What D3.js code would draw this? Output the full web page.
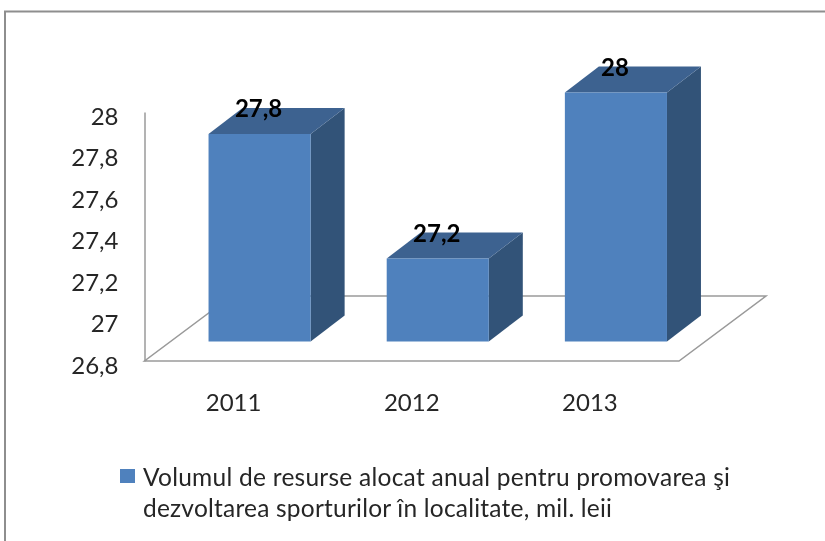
<!DOCTYPE html>
<html>
<head>
<meta charset="utf-8">
<script src="https://cdn.jsdelivr.net/npm/d3@7"></script>
<style>
  html, body { margin: 0; padding: 0; background: #fff; }
  svg { display: block; font-family: Lato, "Open Sans", sans-serif; filter: blur(0.4px); }
</style>
</head>
<body>
<svg id="chart" width="825" height="541"></svg>
<script>
const years = ['2011', '2012', '2013'];
const values = [27.8, 27.2, 28];
const yTicks = [26.8, 27, 27.2, 27.4, 27.6, 27.8, 28];
const legendLines = [
  'Volumul de resurse alocat anual pentru promovarea şi',
  'dezvoltarea sporturilor în localitate, mil. leii'
];

const colors = { front: '#4f81bd', top: '#3d6290', side: '#325378', line: '#9a9a9a', frame: '#8e8e8e', text: '#262626' };
const comma = d => String(d).replace('.', ',');

const svg = d3.select('#chart');

// plot box: front left corner of the floor is at (plotLeft, plotBottom)
const plotLeft = 144.5, plotRight = 679, plotTop = 112, plotBottom = 361;
// how far the floor goes back, and where the bars stand on it
const floorDepth = { x: 87, y: -65 };
const barOffset = { x: 26, y: -19.5 };
const barDepth = { x: 34, y: -26 };

const xScale = d3.scaleBand()
    .domain(years)
    .range([plotLeft, plotRight])
    .paddingInner(76 / 178)
    .paddingOuter(38 / 178);

const yScale = d3.scaleLinear()
    .domain([26.8, 28])
    .range([plotBottom, plotTop]);

// frame of the picture, only top and left are visible
svg.append('path')
    .attr('d', 'M5,541V11.5H825')
    .attr('fill', 'none')
    .attr('stroke', colors.frame)
    .attr('stroke-width', 2);

// floor
svg.append('path')
    .attr('d', `M${plotLeft},${plotBottom}H${plotRight}L${plotRight + floorDepth.x},${plotBottom + floorDepth.y}H${plotLeft + floorDepth.x}Z`)
    .attr('fill', '#fff')
    .attr('stroke', colors.line)
    .attr('stroke-width', 1.5);

// axes
const yAxisG = svg.append('g')
    .attr('transform', `translate(${plotLeft},0)`)
    .call(d3.axisLeft(yScale).tickValues(yTicks).tickSize(0).tickPadding(26).tickFormat(comma));
yAxisG.select('.domain').attr('stroke', colors.line).attr('stroke-width', 1.5);
yAxisG.selectAll('text')
    .attr('dy', '0.5em')
    .style('font-family', 'Lato, "Open Sans", sans-serif')
    .style('font-size', '24px')
    .attr('fill', colors.text);

const xAxisG = svg.append('g')
    .attr('transform', `translate(0,${plotBottom})`)
    .call(d3.axisBottom(xScale).tickSize(0).tickPadding(33));
xAxisG.select('.domain').remove();
xAxisG.selectAll('text')
    .style('font-family', 'Lato, "Open Sans", sans-serif')
    .style('font-size', '24px')
    .attr('fill', colors.text);

// bars
const bars = svg.append('g').selectAll('g')
    .data(years.map((year, i) => ({ year, value: values[i] })))
    .join('g');

const x0 = d => xScale(d.year) + barOffset.x;
const x1 = d => x0(d) + xScale.bandwidth();
const yBase = plotBottom + barOffset.y;
const yTop = d => yScale(d.value) + barOffset.y;

bars.append('path')
    .attr('d', d => `M${x1(d)},${yBase}V${yTop(d)}l${barDepth.x},${barDepth.y}V${yBase + barDepth.y}Z`)
    .attr('fill', colors.side);

bars.append('path')
    .attr('d', d => `M${x0(d)},${yTop(d)}H${x1(d)}l${barDepth.x},${barDepth.y}H${x0(d) + barDepth.x}Z`)
    .attr('fill', colors.top);

bars.append('rect')
    .attr('x', d => x0(d))
    .attr('y', d => yTop(d))
    .attr('width', xScale.bandwidth())
    .attr('height', d => yBase - yTop(d))
    .attr('fill', colors.front);

bars.append('text')
    .attr('x', d => x0(d) + xScale.bandwidth() / 2 - 1)
    .attr('y', d => yTop(d) + barDepth.y + 9)
    .attr('text-anchor', 'middle')
    .style('font-size', '24px')
    .style('font-weight', 'bold')
    .attr('fill', '#000')
    .text(d => comma(d.value));

// legend
svg.append('rect')
    .attr('x', 120)
    .attr('y', 469)
    .attr('width', 15)
    .attr('height', 14)
    .attr('fill', colors.front);

// the two lines are spaced out differently in the original, so fit each one
const legendWidths = [587, 469];
svg.append('g').selectAll('text')
    .data(legendLines)
    .join('text')
    .attr('x', 143)
    .attr('y', (d, i) => 486 + i * 31)
    .attr('textLength', (d, i) => legendWidths[i])
    .style('font-size', '24.5px')
    .attr('fill', colors.text)
    .text(d => d);
</script>
</body>
</html>
